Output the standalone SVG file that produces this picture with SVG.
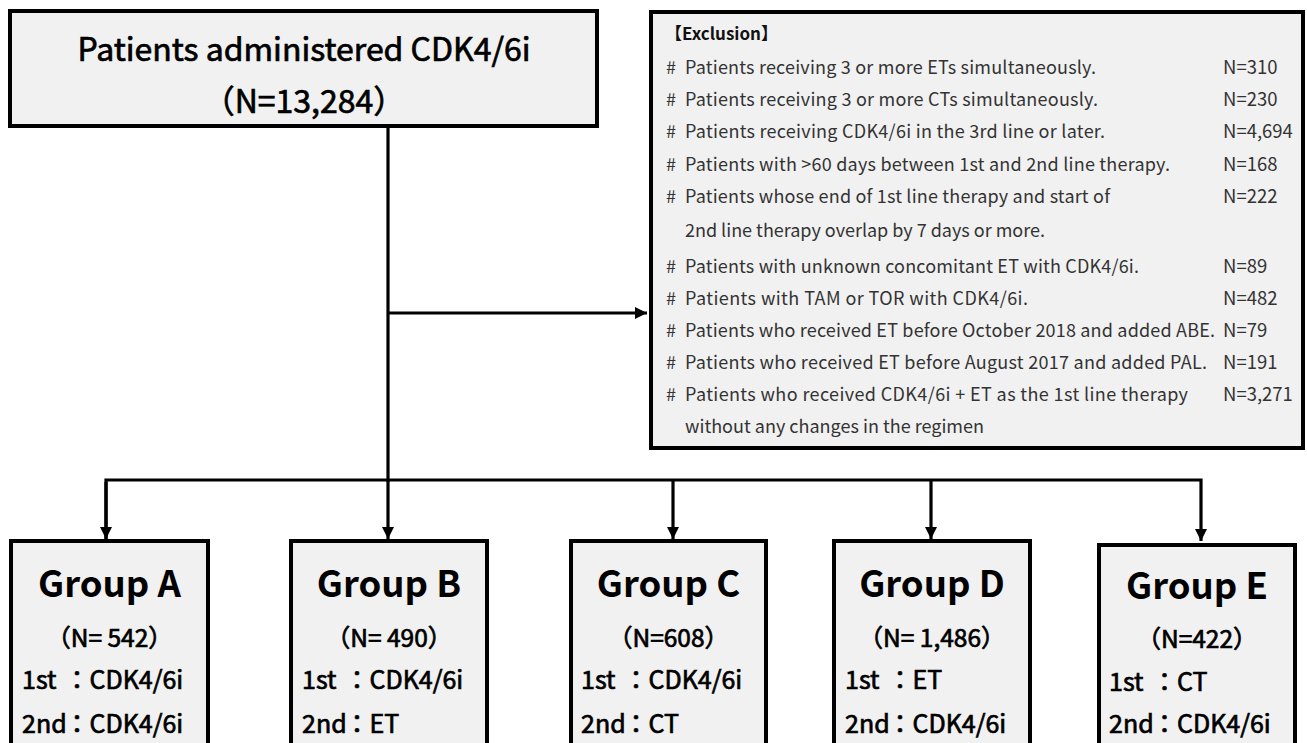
<svg xmlns="http://www.w3.org/2000/svg" width="1307" height="743" viewBox="0 0 1307 743">
<defs>
<style>
.box{fill:#f1f1f1;stroke:#000;stroke-width:4}
.ln{fill:none;stroke:#000;stroke-width:3.2;stroke-linejoin:miter}
.t{font-family:"Noto Sans CJK JP","Liberation Sans",sans-serif;fill:#000}
.med{stroke:#000;stroke-width:0.7px}
.title{font-size:32px;font-weight:400;text-anchor:middle}
.gh{font-size:36.5px;font-weight:700;text-anchor:middle}
.gn{font-size:24.5px;font-weight:400;text-anchor:middle}
.gl{font-size:25px;font-weight:400}
.ex{font-size:18px;font-weight:400;fill:#333}
.exn{font-size:18.5px}
.exh{font-size:17px;font-weight:700;fill:#111}
</style>
<marker id="ah" viewBox="0 0 12 12" refX="12" refY="6" markerWidth="12" markerHeight="12" markerUnits="userSpaceOnUse" orient="auto">
<path d="M0,0 L12,6 L0,12 z" fill="#000"/>
</marker>
</defs>

<g id="connectors">
<path class="ln" d="M388,127 V482"/>
<path class="ln" d="M388,313 H647" marker-end="url(#ah)"/>
<path class="ln" d="M106,539 V480 H1201 V541" marker-end="url(#ah)"/>
<path class="ln" d="M388,480 V539" marker-end="url(#ah)"/>
<path class="ln" d="M673,480 V539" marker-end="url(#ah)"/>
<path class="ln" d="M931,480 V539" marker-end="url(#ah)"/>
<path class="ln" d="M106,482 V539" marker-end="url(#ah)"/>
</g>

<g id="start">
<rect class="box" x="10" y="11" width="587" height="115"/>
<text class="t title med" x="304" y="61">Patients administered CDK4/6i</text>
<text class="t title med" x="304" y="113">（N=13,284）</text>
</g>

<g id="exclusion">
<rect class="box" x="651" y="12" width="652" height="436"/>
<text class="t exh" x="665" y="40">【Exclusion】</text>
<g class="t ex">
<text y="74"><tspan x="666">#</tspan><tspan x="685" textLength="411">Patients receiving 3 or more ETs simultaneously.</tspan></text>
<text class="exn" x="1223" y="74">N=310</text>
<text y="106"><tspan x="666">#</tspan><tspan x="685" textLength="413">Patients receiving 3 or more CTs simultaneously.</tspan></text>
<text class="exn" x="1223" y="106">N=230</text>
<text y="138"><tspan x="666">#</tspan><tspan x="685" textLength="420">Patients receiving CDK4/6i in the 3rd line or later.</tspan></text>
<text class="exn" x="1223" y="138">N=4,694</text>
<text y="171"><tspan x="666">#</tspan><tspan x="685" textLength="485">Patients with &gt;60 days between 1st and 2nd line therapy.</tspan></text>
<text class="exn" x="1223" y="171">N=168</text>
<text y="203"><tspan x="666">#</tspan><tspan x="685" textLength="425">Patients whose end of 1st line therapy and start of</tspan></text>
<text class="exn" x="1223" y="203">N=222</text>
<text x="685" y="237" textLength="360">2nd line therapy overlap by 7 days or more.</text>
<text y="273"><tspan x="666">#</tspan><tspan x="685" textLength="454">Patients with unknown concomitant ET with CDK4/6i.</tspan></text>
<text class="exn" x="1223" y="273">N=89</text>
<text y="305"><tspan x="666">#</tspan><tspan x="685" textLength="343">Patients with TAM or TOR with CDK4/6i.</tspan></text>
<text class="exn" x="1223" y="305">N=482</text>
<text y="337"><tspan x="666">#</tspan><tspan x="685" textLength="530">Patients who received ET before October 2018 and added ABE.</tspan></text>
<text class="exn" x="1223" y="337">N=79</text>
<text y="369"><tspan x="666">#</tspan><tspan x="685" textLength="522">Patients who received ET before August 2017 and added PAL.</tspan></text>
<text class="exn" x="1223" y="369">N=191</text>
<text y="401"><tspan x="666">#</tspan><tspan x="685" textLength="503">Patients who received CDK4/6i + ET as the 1st line therapy</tspan></text>
<text class="exn" x="1223" y="401">N=3,271</text>
<text x="685" y="433" textLength="299">without any changes in the regimen</text>
</g>
</g>

<g id="groupA">
<rect class="box" x="11" y="541" width="197" height="220"/>
<text class="t gh" x="109.5" y="597">Group A</text>
<text class="t gn med" x="109.5" y="647">（N= 542）</text>
<text class="t gl med" y="689"><tspan x="22">1st </tspan><tspan x="64.5">：</tspan><tspan x="89.5">CDK4/6i</tspan></text>
<text class="t gl med" y="733"><tspan x="22">2nd</tspan><tspan x="64.5">：</tspan><tspan x="89.5">CDK4/6i</tspan></text>
</g>

<g id="groupB">
<rect class="box" x="291" y="541" width="196" height="220"/>
<text class="t gh" x="389" y="597">Group B</text>
<text class="t gn med" x="389" y="647">（N= 490）</text>
<text class="t gl med" y="689"><tspan x="302">1st </tspan><tspan x="344.5">：</tspan><tspan x="369.5">CDK4/6i</tspan></text>
<text class="t gl med" y="733"><tspan x="302">2nd</tspan><tspan x="344.5">：</tspan><tspan x="369.5">ET</tspan></text>
</g>

<g id="groupC">
<rect class="box" x="571" y="541" width="195" height="220"/>
<text class="t gh" x="668.5" y="597">Group C</text>
<text class="t gn med" x="668.5" y="647">（N=608）</text>
<text class="t gl med" y="689"><tspan x="581">1st </tspan><tspan x="623.5">：</tspan><tspan x="648.5">CDK4/6i</tspan></text>
<text class="t gl med" y="733"><tspan x="581">2nd</tspan><tspan x="623.5">：</tspan><tspan x="648.5">CT</tspan></text>
</g>

<g id="groupD">
<rect class="box" x="834" y="541" width="196" height="220"/>
<text class="t gh" x="932" y="597">Group D</text>
<text class="t gn med" x="932" y="647">（N= 1,486）</text>
<text class="t gl med" y="689"><tspan x="845">1st </tspan><tspan x="887.5">：</tspan><tspan x="912.5">ET</tspan></text>
<text class="t gl med" y="733"><tspan x="845">2nd</tspan><tspan x="887.5">：</tspan><tspan x="912.5">CDK4/6i</tspan></text>
</g>

<g id="groupE">
<rect class="box" x="1099" y="545" width="196" height="220"/>
<text class="t gh" x="1197" y="599">Group E</text>
<text class="t gn med" x="1197" y="648">（N=422）</text>
<text class="t gl med" y="691"><tspan x="1109">1st </tspan><tspan x="1152">：</tspan><tspan x="1177">CT</tspan></text>
<text class="t gl med" y="733"><tspan x="1109">2nd</tspan><tspan x="1152">：</tspan><tspan x="1177">CDK4/6i</tspan></text>
</g>
</svg>
